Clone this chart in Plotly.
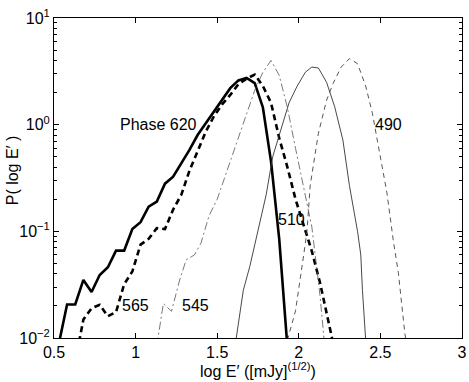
import plotly.graph_objects as go

# phase 620 (thick solid)
x620 = [0.53, 0.58, 0.63, 0.68, 0.73, 0.78, 0.83, 0.88, 0.93, 0.98, 1.03, 1.08, 1.13, 1.18, 1.23,
        1.28, 1.33, 1.38, 1.43, 1.48, 1.53, 1.58, 1.63, 1.68, 1.73, 1.78, 1.83, 1.88, 1.93]
y620 = [0.0089, 0.0206, 0.0206, 0.035, 0.027, 0.039, 0.046, 0.066, 0.066, 0.105, 0.122, 0.17, 0.19, 0.28, 0.325,
        0.43, 0.58, 0.80, 1.03, 1.32, 1.69, 2.2, 2.6, 2.75, 2.45, 1.45, 0.45, 0.085, 0.0083]

# phase 565 (thick dashed)
x565 = [0.63, 0.68, 0.73, 0.78, 0.83, 0.88, 0.93, 0.98, 1.03, 1.08, 1.13, 1.18, 1.23, 1.28, 1.33, 1.38,
        1.43, 1.48, 1.53, 1.58, 1.63, 1.68, 1.73, 1.78, 1.83, 1.88, 1.93, 1.98, 2.03, 2.08, 2.13, 2.18, 2.23]
y565 = [0.006, 0.0149, 0.019, 0.0205, 0.016, 0.0175, 0.032, 0.042, 0.075, 0.085, 0.107, 0.105, 0.16, 0.22, 0.37, 0.56,
        0.86, 1.2, 1.55, 1.9, 2.4, 2.7, 2.95, 2.3, 1.6, 0.75, 0.4, 0.2, 0.115, 0.065, 0.033, 0.015, 0.0065]

# phase 545 (thin dash-dot)
x545 = [1.13, 1.17, 1.22, 1.27, 1.31, 1.36, 1.40, 1.45, 1.50, 1.55, 1.60, 1.64, 1.69, 1.73, 1.78,
        1.83, 1.88, 1.93, 1.98, 2.03, 2.08, 2.13, 2.16]
y545 = [0.0085, 0.021, 0.0178, 0.035, 0.054, 0.06, 0.077, 0.14, 0.20, 0.33, 0.55, 0.83, 1.35, 2.1, 3.1,
        4.0, 2.9, 1.45, 0.6, 0.25, 0.11, 0.025, 0.008]

# phase 510 (thin solid)
x510 = [1.61, 1.66, 1.70, 1.75, 1.80, 1.84, 1.89, 1.94, 1.99, 2.04, 2.08, 2.12, 2.17, 2.22, 2.27,
        2.31, 2.36, 2.38, 2.39, 2.41]
y510 = [0.0085, 0.028, 0.047, 0.105, 0.22, 0.5, 0.92, 1.6, 2.3, 3.1, 3.47, 3.4, 2.5, 1.47, 0.72,
        0.27, 0.1, 0.06, 0.028, 0.0095]

# phase 490 (thin dashed)
x490 = [1.93, 1.98, 2.03, 2.05, 2.07, 2.12, 2.17, 2.21, 2.26, 2.31, 2.36, 2.41, 2.45, 2.50, 2.54,
        2.58, 2.61, 2.65, 2.66]
y490 = [0.0095, 0.018, 0.06, 0.10, 0.27, 0.83, 1.69, 2.43, 3.47, 4.16, 3.73, 2.3, 1.3, 0.5, 0.23,
        0.08, 0.041, 0.011, 0.009]

labels = ["Phase 620", "565", "545", "510", "490"]
label_x = [1.39, 0.905, 1.272, 1.863, 2.457]
label_y = [0.0, -1.70, -1.70, -0.89, 0.0]

FONT = "Liberation Sans, Arial, sans-serif"

fig = go.Figure()
fig.add_trace(go.Scatter(x=x620, y=y620, mode="lines", line=dict(color="black", width=2.6)))
fig.add_trace(go.Scatter(x=x565, y=y565, mode="lines", line=dict(color="black", width=2.6, dash="6px,4px")))
fig.add_trace(go.Scatter(x=x545, y=y545, mode="lines", line=dict(color="#555555", width=0.8, dash="8px,3px,2px,3px")))
fig.add_trace(go.Scatter(x=x510, y=y510, mode="lines", line=dict(color="#333333", width=0.9)))
fig.add_trace(go.Scatter(x=x490, y=y490, mode="lines", line=dict(color="#444444", width=0.9, dash="5px,4px")))

for t, lx, ly in zip(labels, label_x, label_y):
    fig.add_annotation(x=lx, y=ly, text=t, showarrow=False,
                       xanchor="right" if t.startswith("Phase") else "left",
                       yanchor="middle", font=dict(size=16, color="black", family=FONT))

# axis titles placed as paper annotations
fig.add_annotation(xref="paper", yref="paper", x=0.499, y=-0.1, text="log E′ ([mJy]<sup>(1/2)</sup>)",
                   showarrow=False, xanchor="center", yanchor="middle", font=dict(size=16, family=FONT))
fig.add_annotation(xref="paper", yref="paper", x=-0.103, y=0.524, text="P( log E′ )", textangle=-90,
                   showarrow=False, xanchor="center", yanchor="middle", font=dict(size=16, family=FONT))

minor_vals = [m * 10 ** e for e in (-2, -1, 0) for m in range(2, 10)]

fig.update_layout(
    width=469, height=382,
    margin=dict(l=54, r=7, t=18, b=44),
    plot_bgcolor="white", paper_bgcolor="white",
    showlegend=False,
    font=dict(family=FONT, size=16, color="black"),
    xaxis=dict(range=[0.4999, 3.0001], tickvals=[0.5, 1, 1.5, 2, 2.5, 3], ticktext=["0.5", "1", "1.5", "2", "2.5", "3"],
               ticks="inside", ticklen=5, tickcolor="black", showline=True, linecolor="black", linewidth=1,
               mirror="ticks", showgrid=False, zeroline=False, automargin=False),
    yaxis=dict(type="log", range=[-2.0001, 1.0001], tickvals=[0.01, 0.1, 1, 10],
               ticktext=["10<sup>−2</sup>", "10<sup>−1</sup>", "10<sup>0</sup>", "10<sup>1</sup>"],
               ticks="inside", ticklen=5, tickcolor="black", showline=True, linecolor="black", linewidth=1,
               mirror="ticks", showgrid=False, zeroline=False, automargin=False,
               minor=dict(tickmode="array", tickvals=minor_vals, ticks="inside", ticklen=3, tickcolor="black", showgrid=False)),
)

fig.write_html("out.html", config={"displayModeBar": False},
               post_script="document.body.style.margin='0';")
